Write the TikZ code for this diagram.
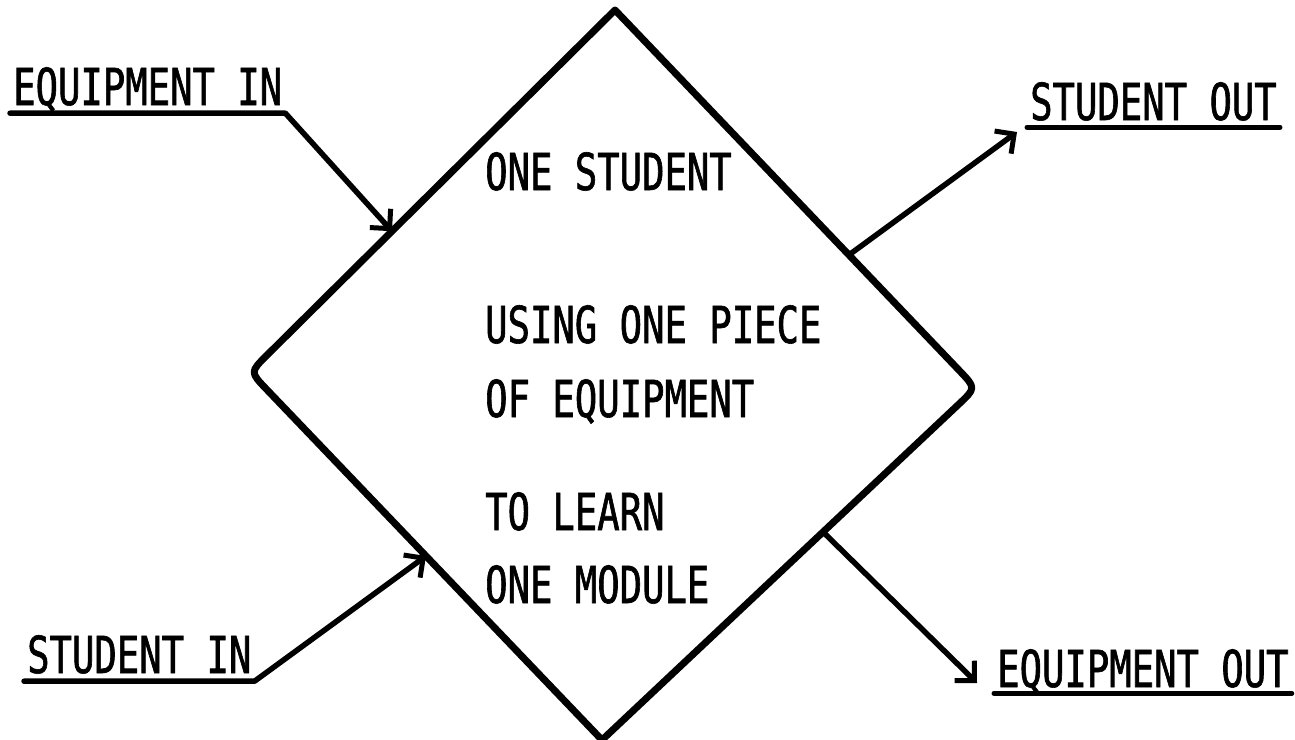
\documentclass[tikz,border=0pt]{standalone}
\usepackage{fontspec}
\usetikzlibrary{arrows.meta,calc}
\newfontfamily\typer[FakeStretch=0.73,FakeBold=1.2]{DejaVu Sans Mono}
\begin{document}
\begin{tikzpicture}[x=1pt,y=-1pt,
  every node/.style={font=\typer\fontsize{51}{51}\selectfont, text depth=0pt},
  boxline/.style={line width=7pt, line cap=round, line join=round},
  flow/.style={line width=5.5pt, line cap=round, line join=round,
    -{Straight Barb[length=14pt,width=28pt,line width=5pt]}},
  underline/.style={line width=5pt, line cap=round},
  lbl/.style={inner xsep=3pt, inner ysep=8pt, anchor=base west},
  txt/.style={inner sep=0pt, anchor=base west}]
\useasboundingbox (0,0) rectangle (1295,739);

% corners of the diamond
\coordinate (dT) at (615,10);
\coordinate (dL) at (250,372);
\coordinate (dB) at (602,740);
\coordinate (dR) at (976,388);

% diamond, rounded only at its left and right corners
\draw[boxline] (dT) -- ($(dL)!24pt!(dT)$) .. controls (dL) .. ($(dL)!24pt!(dB)$)
  -- (dB) -- ($(dR)!24pt!(dB)$) .. controls (dR) .. ($(dR)!24pt!(dT)$) -- cycle;

% where the flows meet the diamond
\coordinate (eqinTip) at ($(dT)!0.611!(dL)$);
\coordinate (stinTip) at ($(dL)!0.50!(dB)$);
\coordinate (stoutStart) at ($(dT)!0.648!(dR)$);
\coordinate (eqoutStart) at ($(dR)!0.409!(dB)$);
\coordinate (stoutTip) at (1017,132);
\coordinate (eqoutTip) at (977,683);

% text inside the diamond
\node[txt] (t1) at (485,190) {ONE STUDENT};
\node[txt] (t2) at (485,343) {USING ONE PIECE};
\node[txt] (t3) at (485,417) {OF EQUIPMENT};
\node[txt] (t4) at (485,530) {TO LEARN};
\node[txt] (t5) at (485,603) {ONE MODULE};

% underlined flow labels
\node[lbl] (eqin) at (10,105) {EQUIPMENT IN};
\node[lbl] (stin) at (24,673) {STUDENT IN};
\node[lbl, inner ysep=7pt] (stout) at (1027,120) {STUDENT OUT};
\node[lbl, inner ysep=6pt] (eqout) at (994,687) {EQUIPMENT OUT};

% flows in
\draw[flow] (eqin.south west) -- (eqin.south east) -- (eqinTip);
\draw[flow] (stin.south west) -- (stin.south east) -- (stinTip);

% flows out
\draw[flow] (stoutStart) -- (stoutTip);
\draw[flow] (eqoutStart) -- (eqoutTip);
\draw[underline] (stout.south west) -- (stout.south east);
\draw[underline] (eqout.south west) -- (eqout.south east);
\end{tikzpicture}
\end{document}
